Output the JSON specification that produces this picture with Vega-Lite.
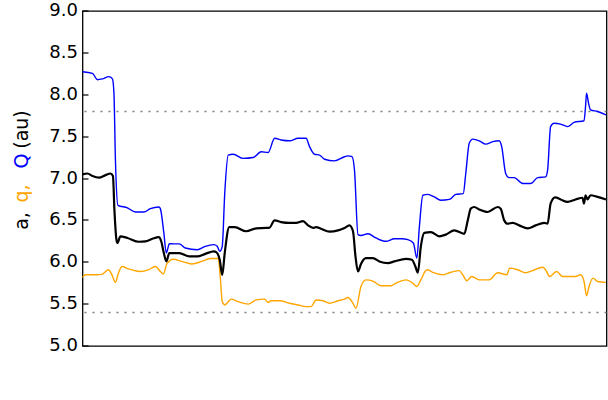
{
  "$schema": "https://vega.github.io/schema/vega-lite/v6.json",
  "width": 524,
  "height": 335,
  "autosize": {"type": "none"},
  "padding": {"left": 82.5, "top": 11, "right": 1.5, "bottom": 54},
  "background": "white",
  "datasets": {
    "refs": [{"v": 7.8}, {"v": 5.4}],
    "Q": [
      {"year": 1700, "v": 8.275}, {"year": 1710, "v": 8.256}, {"year": 1715, "v": 8.18}, {"year": 1720, "v": 8.19},
      {"year": 1726.5, "v": 8.216}, {"year": 1730, "v": 8.19}, {"year": 1731.5, "v": 8.02}, {"year": 1733, "v": 7.22},
      {"year": 1735.5, "v": 6.68}, {"year": 1745, "v": 6.65}, {"year": 1753, "v": 6.6}, {"year": 1761.5, "v": 6.6},
      {"year": 1768, "v": 6.64}, {"year": 1776.5, "v": 6.66}, {"year": 1778, "v": 6.64}, {"year": 1781.5, "v": 6.35},
      {"year": 1784, "v": 6.11}, {"year": 1787, "v": 6.22}, {"year": 1797, "v": 6.22}, {"year": 1803, "v": 6.17},
      {"year": 1815, "v": 6.15}, {"year": 1823, "v": 6.19}, {"year": 1831.5, "v": 6.21}, {"year": 1835, "v": 6.19},
      {"year": 1837.5, "v": 6.13}, {"year": 1840, "v": 6.19}, {"year": 1842.5, "v": 6.82}, {"year": 1846, "v": 7.28},
      {"year": 1851, "v": 7.29}, {"year": 1861, "v": 7.24}, {"year": 1871, "v": 7.25}, {"year": 1879, "v": 7.32},
      {"year": 1886, "v": 7.31}, {"year": 1892.5, "v": 7.48}, {"year": 1899, "v": 7.46}, {"year": 1907.5, "v": 7.45},
      {"year": 1916, "v": 7.48}, {"year": 1924, "v": 7.48}, {"year": 1927.5, "v": 7.38}, {"year": 1932.5, "v": 7.29},
      {"year": 1937.5, "v": 7.28}, {"year": 1942.5, "v": 7.23}, {"year": 1952.5, "v": 7.21}, {"year": 1962.5, "v": 7.26},
      {"year": 1966, "v": 7.27}, {"year": 1970, "v": 7.26}, {"year": 1972.5, "v": 7.1}, {"year": 1976, "v": 6.33},
      {"year": 1979, "v": 6.32}, {"year": 1986, "v": 6.34}, {"year": 1994, "v": 6.29}, {"year": 2004, "v": 6.25},
      {"year": 2012.5, "v": 6.28}, {"year": 2020, "v": 6.28}, {"year": 2026, "v": 6.27}, {"year": 2031.5, "v": 6.23},
      {"year": 2035, "v": 6.05}, {"year": 2037.5, "v": 6.42}, {"year": 2041, "v": 6.8}, {"year": 2046, "v": 6.81},
      {"year": 2052.5, "v": 6.78}, {"year": 2059, "v": 6.74}, {"year": 2067.5, "v": 6.75}, {"year": 2074, "v": 6.81},
      {"year": 2081.5, "v": 6.82}, {"year": 2084, "v": 7.06}, {"year": 2087.5, "v": 7.42}, {"year": 2091, "v": 7.47},
      {"year": 2097.5, "v": 7.45}, {"year": 2104, "v": 7.41}, {"year": 2111, "v": 7.44}, {"year": 2117.5, "v": 7.45},
      {"year": 2120, "v": 7.38}, {"year": 2124, "v": 7.06}, {"year": 2127.5, "v": 7.01}, {"year": 2132.5, "v": 7.01},
      {"year": 2141, "v": 6.94}, {"year": 2149, "v": 6.94}, {"year": 2156, "v": 7.01}, {"year": 2164, "v": 7.02},
      {"year": 2166, "v": 7.1}, {"year": 2169, "v": 7.62}, {"year": 2172.5, "v": 7.66}, {"year": 2179, "v": 7.65},
      {"year": 2186, "v": 7.62}, {"year": 2192.5, "v": 7.67}, {"year": 2202.5, "v": 7.69}, {"year": 2204, "v": 7.86},
      {"year": 2205, "v": 8.02}, {"year": 2207, "v": 7.9}, {"year": 2209, "v": 7.82}, {"year": 2216, "v": 7.8},
      {"year": 2224.5, "v": 7.76}
    ],
    "a": [
      {"year": 1700, "v": 7.05}, {"year": 1705, "v": 7.06}, {"year": 1710, "v": 7.03}, {"year": 1716.5, "v": 7.01},
      {"year": 1723, "v": 7.04}, {"year": 1728, "v": 7.06}, {"year": 1730.5, "v": 7.03}, {"year": 1732, "v": 6.62},
      {"year": 1734, "v": 6.27}, {"year": 1735, "v": 6.23}, {"year": 1738, "v": 6.31}, {"year": 1745, "v": 6.29},
      {"year": 1756.5, "v": 6.245}, {"year": 1763, "v": 6.25}, {"year": 1770, "v": 6.28}, {"year": 1776.5, "v": 6.3},
      {"year": 1779, "v": 6.245}, {"year": 1781.5, "v": 6.11}, {"year": 1784, "v": 6.01}, {"year": 1787, "v": 6.11},
      {"year": 1797, "v": 6.11}, {"year": 1807, "v": 6.07}, {"year": 1815, "v": 6.07}, {"year": 1823, "v": 6.1},
      {"year": 1831.5, "v": 6.13}, {"year": 1834, "v": 6.12}, {"year": 1837.5, "v": 6.03}, {"year": 1840, "v": 5.85},
      {"year": 1842.5, "v": 6.11}, {"year": 1847, "v": 6.42}, {"year": 1852.5, "v": 6.42}, {"year": 1864, "v": 6.37},
      {"year": 1874, "v": 6.405}, {"year": 1884, "v": 6.41}, {"year": 1887, "v": 6.41}, {"year": 1892.5, "v": 6.5},
      {"year": 1899, "v": 6.48}, {"year": 1907.5, "v": 6.47}, {"year": 1914, "v": 6.47}, {"year": 1921, "v": 6.49},
      {"year": 1926, "v": 6.44}, {"year": 1931, "v": 6.41}, {"year": 1934, "v": 6.42}, {"year": 1939, "v": 6.4},
      {"year": 1947.5, "v": 6.365}, {"year": 1956, "v": 6.38}, {"year": 1962.5, "v": 6.41}, {"year": 1967.5, "v": 6.44},
      {"year": 1971, "v": 6.37}, {"year": 1973.5, "v": 6.07}, {"year": 1976, "v": 5.89}, {"year": 1979, "v": 5.98},
      {"year": 1984, "v": 6.05}, {"year": 1991, "v": 6.05}, {"year": 1997.5, "v": 6.01}, {"year": 2006, "v": 5.99},
      {"year": 2012.5, "v": 6.01}, {"year": 2024, "v": 6.04}, {"year": 2030, "v": 6.03}, {"year": 2033.5, "v": 5.95},
      {"year": 2036, "v": 5.875}, {"year": 2039, "v": 6.19}, {"year": 2042.5, "v": 6.35}, {"year": 2049, "v": 6.36},
      {"year": 2057.5, "v": 6.31}, {"year": 2064, "v": 6.33}, {"year": 2072.5, "v": 6.38}, {"year": 2082.5, "v": 6.34},
      {"year": 2086, "v": 6.5}, {"year": 2089, "v": 6.64}, {"year": 2092.5, "v": 6.66}, {"year": 2097.5, "v": 6.63},
      {"year": 2106, "v": 6.6}, {"year": 2116, "v": 6.66}, {"year": 2119, "v": 6.64}, {"year": 2122.5, "v": 6.5},
      {"year": 2126, "v": 6.46}, {"year": 2131, "v": 6.47}, {"year": 2137.5, "v": 6.44}, {"year": 2146, "v": 6.405},
      {"year": 2154, "v": 6.44}, {"year": 2162.5, "v": 6.47}, {"year": 2166, "v": 6.46}, {"year": 2169, "v": 6.7},
      {"year": 2173.5, "v": 6.775}, {"year": 2179, "v": 6.75}, {"year": 2186, "v": 6.72}, {"year": 2194, "v": 6.75},
      {"year": 2201, "v": 6.77}, {"year": 2202.5, "v": 6.7}, {"year": 2204, "v": 6.8}, {"year": 2206, "v": 6.75},
      {"year": 2209, "v": 6.8}, {"year": 2216, "v": 6.78}, {"year": 2224.5, "v": 6.75}
    ],
    "q": [
      {"year": 1700, "v": 5.82}, {"year": 1703, "v": 5.85}, {"year": 1713, "v": 5.85}, {"year": 1719.5, "v": 5.855},
      {"year": 1726, "v": 5.91}, {"year": 1729.5, "v": 5.85}, {"year": 1733, "v": 5.76}, {"year": 1736, "v": 5.87},
      {"year": 1739.5, "v": 5.95}, {"year": 1746, "v": 5.92}, {"year": 1758, "v": 5.89}, {"year": 1766, "v": 5.91},
      {"year": 1773, "v": 5.95}, {"year": 1778, "v": 5.89}, {"year": 1781, "v": 5.86}, {"year": 1784.5, "v": 5.98},
      {"year": 1791, "v": 6.035}, {"year": 1799.5, "v": 6.01}, {"year": 1809.5, "v": 5.98}, {"year": 1819.5, "v": 6.01},
      {"year": 1828, "v": 6.045}, {"year": 1836, "v": 6.045}, {"year": 1838, "v": 5.83}, {"year": 1840, "v": 5.53},
      {"year": 1842.5, "v": 5.49}, {"year": 1849, "v": 5.56}, {"year": 1856, "v": 5.53}, {"year": 1866, "v": 5.5},
      {"year": 1874, "v": 5.55}, {"year": 1882.5, "v": 5.56}, {"year": 1886, "v": 5.52}, {"year": 1889, "v": 5.54},
      {"year": 1897.5, "v": 5.54}, {"year": 1907.5, "v": 5.51}, {"year": 1916, "v": 5.49}, {"year": 1924, "v": 5.47},
      {"year": 1929, "v": 5.47}, {"year": 1934, "v": 5.55}, {"year": 1941, "v": 5.54}, {"year": 1947.5, "v": 5.51},
      {"year": 1956, "v": 5.54}, {"year": 1962.5, "v": 5.56}, {"year": 1966, "v": 5.58}, {"year": 1971, "v": 5.51},
      {"year": 1974, "v": 5.45}, {"year": 1979, "v": 5.71}, {"year": 1984, "v": 5.79}, {"year": 1991, "v": 5.775},
      {"year": 1999, "v": 5.72}, {"year": 2009, "v": 5.72}, {"year": 2014, "v": 5.75}, {"year": 2024, "v": 5.79},
      {"year": 2031, "v": 5.75}, {"year": 2035, "v": 5.71}, {"year": 2039, "v": 5.79}, {"year": 2045, "v": 5.91},
      {"year": 2051, "v": 5.88}, {"year": 2061, "v": 5.85}, {"year": 2069, "v": 5.88}, {"year": 2077.5, "v": 5.9},
      {"year": 2081, "v": 5.85}, {"year": 2085, "v": 5.78}, {"year": 2090, "v": 5.83}, {"year": 2097.5, "v": 5.79},
      {"year": 2107.5, "v": 5.79}, {"year": 2116, "v": 5.875}, {"year": 2125, "v": 5.85}, {"year": 2128, "v": 5.93},
      {"year": 2136, "v": 5.91}, {"year": 2144, "v": 5.875}, {"year": 2151, "v": 5.9}, {"year": 2161, "v": 5.94},
      {"year": 2164, "v": 5.91}, {"year": 2168, "v": 5.83}, {"year": 2175, "v": 5.89}, {"year": 2181, "v": 5.83},
      {"year": 2194, "v": 5.83}, {"year": 2199, "v": 5.85}, {"year": 2202.5, "v": 5.77}, {"year": 2205, "v": 5.6},
      {"year": 2207.5, "v": 5.71}, {"year": 2211.5, "v": 5.81}, {"year": 2216, "v": 5.77}, {"year": 2224.5, "v": 5.76}
    ],
    "stars": [
      {"year": 1908, "v": 7.43, "s": "Q"}, {"year": 1908, "v": 6.46, "s": "a"}, {"year": 1908, "v": 5.49, "s": "q"},
      {"year": 2018, "v": 6.29, "s": "Q"}, {"year": 2018, "v": 6.03, "s": "a"}, {"year": 2018, "v": 5.77, "s": "q"}
    ]
  },
  "layer": [
    {
      "data": {"name": "refs"},
      "mark": {"type": "rule", "color": "#808080", "strokeDash": [2, 6], "strokeWidth": 1.3},
      "encoding": {
        "y": {"field": "v", "type": "quantitative", "scale": {"domain": [5, 9], "nice": false, "zero": false},
          "axis": {"orient": "left", "labels": false, "ticks": false, "title": "(au)", "titleColor": "#000000", "titleX": -54.5, "titleY": 118.5}}
      }
    },
    {
      "data": {"name": "Q"},
      "mark": {"type": "line", "color": "#0000ff", "strokeWidth": 1.4, "interpolate": "monotone"},
      "encoding": {
        "x": {"field": "year", "type": "quantitative", "scale": {"domain": [1700, 2225], "nice": false, "zero": false},
          "axis": {"orient": "bottom", "values": [1700, 1800, 1900, 2000, 2100, 2200], "format": "d", "tickSize": 6, "labelPadding": 338, "title": "date (years)", "titleX": 262, "titleY": 382, "titleAlign": "center", "titleBaseline": "alphabetic", "titleAngle": 0}},
        "y": {"field": "v", "type": "quantitative", "scale": {"domain": [5, 9], "nice": false, "zero": false},
          "axis": {"orient": "left", "values": [5, 5.5, 6, 6.5, 7, 7.5, 8, 8.5, 9], "format": ".1f", "tickSize": -6, "labelPadding": 10.5, "title": "Q", "titleColor": "#0000ff", "titleX": -54.5, "titleY": 150}}
      }
    },
    {
      "data": {"name": "q"},
      "mark": {"type": "line", "color": "#ffa500", "strokeWidth": 1.4, "interpolate": "monotone"},
      "encoding": {
        "x": {"field": "year", "type": "quantitative", "axis": null},
        "y": {"field": "v", "type": "quantitative",
          "axis": {"orient": "left", "labels": false, "ticks": false, "title": "q,", "titleColor": "#ffa500", "titleX": -54.5, "titleY": 182.5}}
      }
    },
    {
      "data": {"name": "a"},
      "mark": {"type": "line", "color": "#000000", "strokeWidth": 2.2, "interpolate": "monotone"},
      "encoding": {
        "x": {"field": "year", "type": "quantitative", "axis": null},
        "y": {"field": "v", "type": "quantitative",
          "axis": {"orient": "left", "labels": false, "ticks": false, "title": "a,", "titleColor": "#000000", "titleX": -54.5, "titleY": 210}}
      }
    },
    {
      "data": {"name": "stars"},
      "mark": {"type": "point", "shape": "star", "filled": false, "size": 130, "strokeWidth": 1.4, "opacity": 1},
      "encoding": {
        "x": {"field": "year", "type": "quantitative", "axis": null},
        "y": {"field": "v", "type": "quantitative", "axis": null},
        "color": {"field": "s", "type": "nominal", "scale": {"domain": ["a", "q", "Q"], "range": ["#000000", "#ffa500", "#0000ff"]}, "legend": null}
      }
    }
  ],
  "resolve": {"axis": {"y": "independent"}},
  "config": {
    "view": {"stroke": "#000000", "strokeWidth": 1.3},
    "axis": {
      "grid": false,
      "domain": false,
      "labelFont": "DejaVu Sans",
      "labelFontSize": 18,
      "labelColor": "#000000",
      "labelFlush": false,
      "labelOverlap": false,
      "labelBound": false,
      "tickColor": "#000000",
      "tickWidth": 1.2,
      "titleFont": "DejaVu Sans",
      "titleFontSize": 19,
      "titleFontWeight": "normal",
      "titleColor": "#000000"
    },
    "axisY": {
      "titleAngle": 270,
      "titleAlign": "center",
      "titleBaseline": "alphabetic"
    }
  }
}
